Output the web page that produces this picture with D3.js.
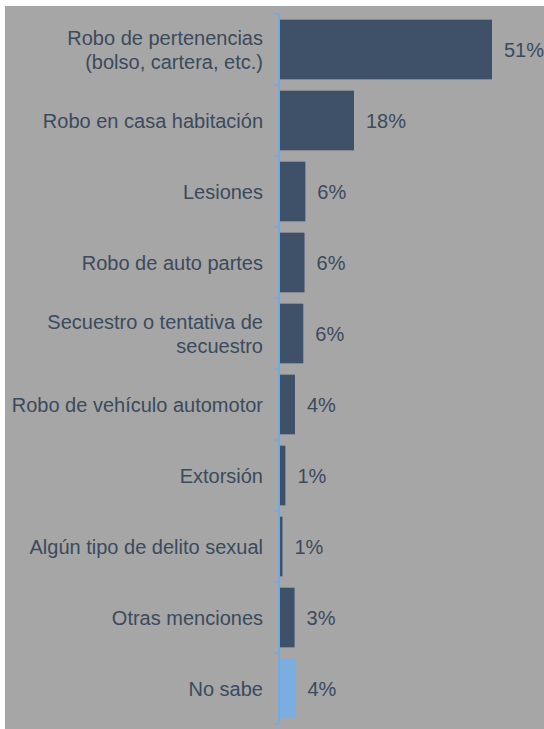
<!DOCTYPE html>
<html>
<head>
<meta charset="utf-8">
<script src="https://cdn.jsdelivr.net/npm/d3@7"></script>
<style>
  html, body { margin: 0; padding: 0; background: #fff; }
  svg { display: block; }
  text { font-family: "Liberation Sans", Arial, sans-serif; }
</style>
</head>
<body>
<div id="chart"></div>
<script>
// categories (line breaks with \n), values in %, value labels as printed
const categories = [
  'Robo de pertenencias\n(bolso, cartera, etc.)',
  'Robo en casa habitación',
  'Lesiones',
  'Robo de auto partes',
  'Secuestro o tentativa de\nsecuestro',
  'Robo de vehículo automotor',
  'Extorsión',
  'Algún tipo de delito sexual',
  'Otras menciones',
  'No sabe'
];
const values = [51, 17.8, 6.1, 5.9, 5.6, 3.6, 1.3, 0.6, 3.5, 3.7];
const valueLabels = ['51%', '18%', '6%', '6%', '6%', '4%', '1%', '1%', '3%', '4%'];
const highlight = ['No sabe'];

const W = 544, H = 729;
const axisX = 279;

const svg = d3.select('#chart').append('svg')
  .attr('width', W)
  .attr('height', H);

// gray plot panel
svg.append('rect')
  .attr('x', 5).attr('y', 6)
  .attr('width', W - 5).attr('height', H - 6)
  .attr('fill', '#a6a6a6');

const y = d3.scaleBand()
  .domain(categories)
  .range([14, 724])
  .paddingInner(0.16)
  .paddingOuter(0.08);

const x = d3.scaleLinear()
  .domain([0, 51])
  .range([axisX + 1, 492]);

// bars
svg.append('g')
  .selectAll('rect')
  .data(categories)
  .join('rect')
  .attr('x', x(0))
  .attr('y', d => y(d))
  .attr('width', (d, i) => x(values[i]) - x(0))
  .attr('height', y.bandwidth())
  .attr('fill', d => highlight.includes(d) ? '#7aaee0' : '#3e5169');

// value labels
svg.append('g')
  .selectAll('text')
  .data(categories)
  .join('text')
  .attr('x', (d, i) => x(values[i]) + 12)
  .attr('y', d => y(d) + y.bandwidth() / 2)
  .attr('dy', '0.35em')
  .attr('font-size', 20)
  .attr('fill', '#3b4a5c')
  .text((d, i) => valueLabels[i]);

// category axis: line + ticks at band boundaries
const step = y.step();
const yTop = y.range()[0];
const boundaries = d3.range(categories.length + 1).map(i => yTop + i * step);

svg.append('line')
  .attr('x1', axisX).attr('x2', axisX)
  .attr('y1', yTop).attr('y2', y.range()[1])
  .attr('stroke', '#74aade')
  .attr('stroke-width', 2);

svg.append('g')
  .selectAll('line')
  .data(boundaries)
  .join('line')
  .attr('x1', axisX - 5).attr('x2', axisX)
  .attr('y1', d => d).attr('y2', d => d)
  .attr('stroke', '#74aade')
  .attr('stroke-width', 1.5);

// category labels
const lineH = 24;
const labels = svg.append('g')
  .selectAll('text')
  .data(categories)
  .join('text')
  .attr('text-anchor', 'end')
  .attr('font-size', 20)
  .attr('fill', '#3b4a5c')
  .attr('transform', d => `translate(263,${y(d) + y.bandwidth() / 2})`);

labels.each(function (d) {
  const lines = d.split('\n');
  const off = -(lines.length - 1) * lineH / 2;
  d3.select(this).selectAll('tspan')
    .data(lines)
    .join('tspan')
    .attr('x', 0)
    .attr('y', (l, i) => off + i * lineH)
    .attr('dy', '0.35em')
    .text(l => l);
});
</script>
</body>
</html>
